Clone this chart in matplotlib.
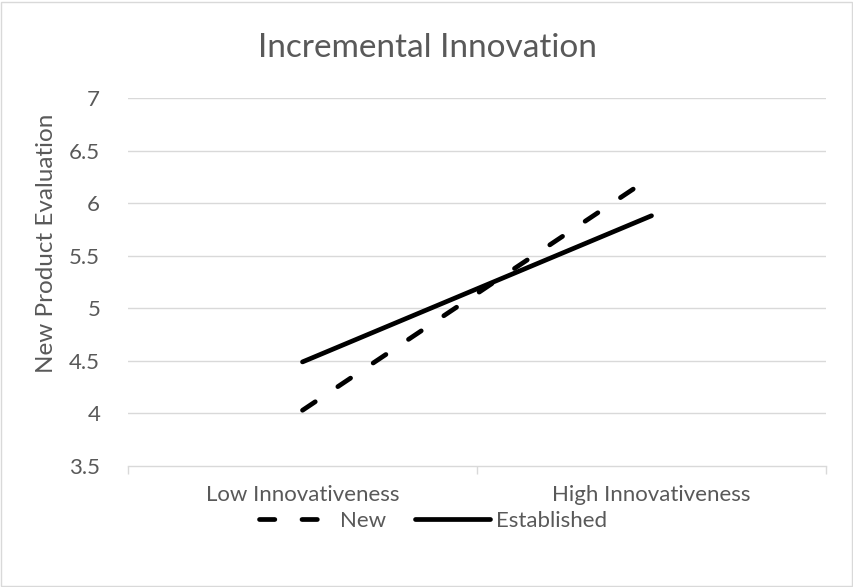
import matplotlib
matplotlib.use("Agg")
import matplotlib.pyplot as plt
from matplotlib.patches import Rectangle

categories = ["Low Innovativeness", "High Innovativeness"]
new_vals = [4.03, 6.25]
established_vals = [4.49, 5.88]
yticks = [3.5, 4, 4.5, 5, 5.5, 6, 6.5, 7]

plt.rcParams['font.family'] = ['Lato', 'DejaVu Sans']
GRAY = '#595959'

fig = plt.figure(figsize=(8.54, 5.87), dpi=100)
ax = fig.add_axes([128/854, 1-466/587, (826-128)/854, (466-98)/587])

x = [0.5, 1.5]
ax.plot(x, new_vals, color='black', lw=3.4, linestyle=(0, (3.25, 5.75)), dash_capstyle='round',
        solid_capstyle='round', label='New')
ax.plot(x, established_vals, color='black', lw=3.4, solid_capstyle='round', label='Established')

ax.set_xlim(0, 2)
ax.set_ylim(3.5, 7)
ax.set_yticks(yticks)
ax.set_yticklabels([f"{v:g}" for v in yticks], fontsize=16, color=GRAY)
ax.set_xticks(x)
ax.set_xticklabels(categories, fontsize=16, color=GRAY)
ax.set_xticks([0, 1, 2], minor=True)
ax.tick_params(axis='x', which='major', length=0, pad=14)
ax.tick_params(axis='x', which='minor', length=6, color='#d9d9d9', width=1)
ax.tick_params(axis='y', length=0, pad=20)
for yv in yticks[1:]:
    ax.axhline(yv, color='#d9d9d9', lw=1, zorder=0)
for s in ['top', 'right', 'left']:
    ax.spines[s].set_visible(False)
ax.spines['bottom'].set_color('#d9d9d9')
ax.spines['bottom'].set_linewidth(1)

ax.set_ylabel("New Product Evaluation", fontsize=17.5, color=GRAY)
ax.yaxis.set_label_coords((57-128)/698, (466-243)/368)
fig.text(0.5, 1-48/587, "Incremental Innovation", ha='center', va='center', fontsize=24, color=GRAY)

leg = fig.legend(loc='center', bbox_to_anchor=(0.507, 1-521/587), ncol=2, frameon=False,
                 fontsize=16, handlelength=3.4, handletextpad=0.25, columnspacing=1.3)
for t in leg.get_texts():
    t.set_color(GRAY)

fig.patches.append(Rectangle((1/854, 1/587), 1-3/854, 1-3/587, transform=fig.transFigure,
                             fill=False, edgecolor='#d9d9d9', lw=1))

fig.savefig("out.png", dpi=100)
